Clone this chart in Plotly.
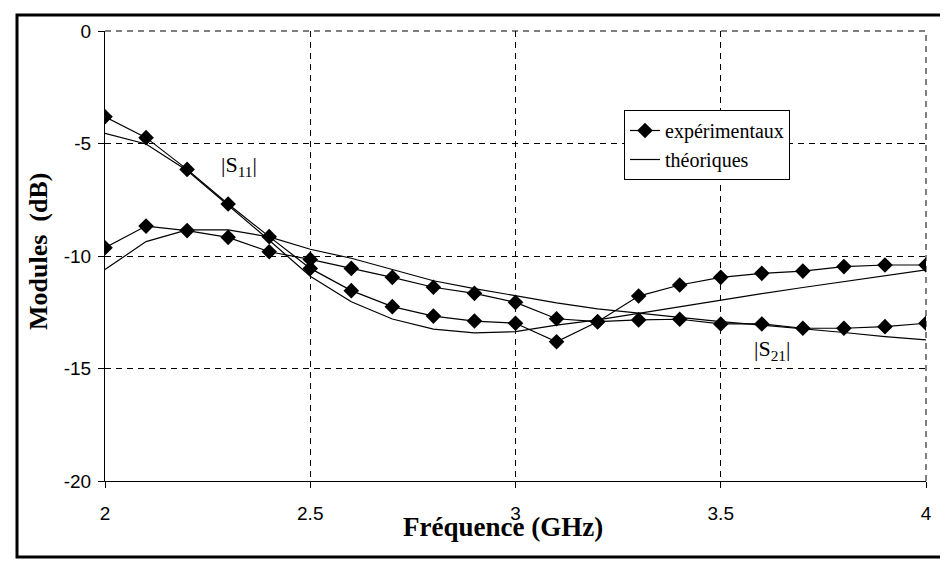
import plotly.graph_objects as go

freq = [2.0, 2.1, 2.2, 2.3, 2.4, 2.5, 2.6, 2.7, 2.8, 2.9, 3.0,
        3.1, 3.2, 3.3, 3.4, 3.5, 3.6, 3.7, 3.8, 3.9, 4.0]

s11_exp = [-3.81, -4.74, -6.15, -7.69, -9.14, -10.55, -11.54, -12.25, -12.67, -12.89, -12.99,
           -13.81, -12.92, -11.78, -11.29, -10.95, -10.77, -10.67, -10.47, -10.40, -10.40]
s21_exp = [-9.63, -8.67, -8.87, -9.17, -9.81, -10.15, -10.55, -10.95, -11.39, -11.66, -12.06,
           -12.79, -12.92, -12.84, -12.81, -13.02, -13.02, -13.21, -13.21, -13.14, -12.99]

s11_th = [-4.55, -5.02, -6.20, -7.75, -9.30, -10.90, -12.03, -12.80, -13.25, -13.42, -13.36,
          -13.07, -12.84, -12.55, -12.25, -11.95, -11.67, -11.40, -11.13, -10.88, -10.62]
s21_th = [-10.60, -9.36, -8.84, -8.84, -9.15, -9.70, -10.10, -10.60, -11.10, -11.45, -11.78,
          -12.08, -12.35, -12.55, -12.74, -12.92, -13.07, -13.22, -13.40, -13.58, -13.73]

x_ticks = [2, 2.5, 3, 3.5, 4]
x_tick_labels = ["2", "2.5", "3", "3.5", "4"]
y_ticks = [0, -5, -10, -15, -20]
y_tick_labels = ["0", "-5", "-10", "-15", "-20"]

legend_exp = "expérimentaux"
legend_th = "théoriques"
x_title = "Fréquence (GHz)"
y_title = "Modules\u00a0 (dB)"

fig = go.Figure()

line_style = dict(color="black", width=1.2)
fig.add_trace(go.Scatter(x=freq, y=s11_exp, mode="lines+markers", name=legend_exp,
                         legendgroup="exp", line=line_style,
                         marker=dict(symbol="diamond", size=12, color="black")))
fig.add_trace(go.Scatter(x=freq, y=s11_th, mode="lines", name=legend_th,
                         legendgroup="th", line=line_style))
fig.add_trace(go.Scatter(x=freq, y=s21_exp, mode="lines+markers", name=legend_exp,
                         legendgroup="exp", showlegend=False, line=line_style,
                         marker=dict(symbol="diamond", size=12, color="black")))
fig.add_trace(go.Scatter(x=freq, y=s21_th, mode="lines", name=legend_th,
                         legendgroup="th", showlegend=False, line=line_style))

# page body has an 8px margin: work in reference pixel coordinates shifted by it
OFF = 8
W, H = 948 - OFF, 570 - OFF
L, R, T, B = 105 - OFF, 926 - OFF, 31 - OFF, 481 - OFF
pw, ph = R - L, B - T


def px(x):
    return (x - OFF - L) / pw


def py(y):
    return (B - (y - OFF)) / ph


axis_common = dict(showgrid=True, gridcolor="black", gridwidth=1, griddash="6px,5px",
                   showline=True, linecolor="black", linewidth=1, zeroline=False,
                   ticks="outside", ticklen=6, tickcolor="black", tickwidth=1,
                   tickfont=dict(family="Liberation Sans, Arial", size=19, color="black"))

fig.update_xaxes(range=[2, 4], tickvals=x_ticks, ticktext=x_tick_labels,
                 ticklabelstandoff=9, **axis_common)
fig.update_yaxes(range=[-20, 0], tickvals=y_ticks, ticktext=y_tick_labels,
                 ticklabelstandoff=3, **axis_common)

dash_line = dict(color="black", width=1, dash="6px,5px")

fig.update_layout(
    width=W, height=H,
    margin=dict(l=L, r=W - R, t=T, b=H - B, autoexpand=False),
    paper_bgcolor="white", plot_bgcolor="white",
    showlegend=True,
    legend=dict(x=px(624), y=py(110), xanchor="left", yanchor="top",
                bgcolor="white", bordercolor="black", borderwidth=1,
                font=dict(family="Liberation Serif, Times New Roman", size=20, color="black"),
                tracegroupgap=0),
    annotations=[
        dict(text="<b>" + x_title + "</b>", xref="paper", yref="paper",
             x=px(503), y=py(527), xanchor="center", yanchor="middle", showarrow=False,
             font=dict(family="Liberation Serif, Times New Roman", size=27, color="black")),
        dict(text="<b>" + y_title + "</b>", xref="paper", yref="paper", textangle=-90,
             x=px(38), y=py(252), xanchor="center", yanchor="middle", showarrow=False,
             font=dict(family="Liberation Serif, Times New Roman", size=26, color="black")),
        dict(text="|S<sub>11</sub>|", xref="paper", yref="paper",
             x=px(239), y=py(166), xanchor="center", yanchor="middle", showarrow=False,
             font=dict(family="Liberation Serif, Times New Roman", size=22, color="black")),
        dict(text="|S<sub>21</sub>|", xref="paper", yref="paper",
             x=px(772), y=py(350), xanchor="center", yanchor="middle", showarrow=False,
             font=dict(family="Liberation Serif, Times New Roman", size=22, color="black")),
    ],
    shapes=[
        # top and right grid lines (plotly omits grid lines on the range ends)
        dict(type="line", xref="x domain", yref="y domain", x0=0, x1=1, y0=1, y1=1,
             line=dash_line, layer="below"),
        dict(type="line", xref="x domain", yref="y domain", x0=1, x1=1, y0=0, y1=1,
             line=dash_line, layer="below"),
        dict(type="rect", xref="paper", yref="paper", x0=px(17), x1=px(945), y0=py(557), y1=py(15),
             line=dict(color="black", width=3), fillcolor="rgba(0,0,0,0)", layer="above"),
        dict(type="rect", xref="paper", yref="paper", x0=px(6), x1=px(952), y0=py(575), y1=py(3),
             line=dict(color="black", width=1), fillcolor="rgba(0,0,0,0)", layer="above"),
    ],
)

fig.write_html("out.html")
